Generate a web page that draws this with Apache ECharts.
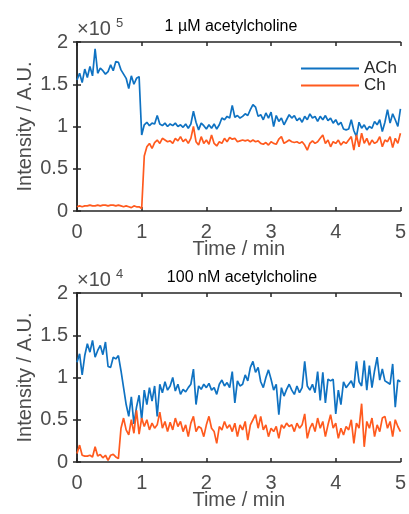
<!DOCTYPE html>
<html>
<head>
<meta charset="utf-8">
<script src="https://cdn.jsdelivr.net/npm/echarts@6/dist/echarts.min.js"></script>
<style>
  html, body { margin: 0; padding: 0; background: #fff; }
  #chart { width: 409px; height: 514px; }
</style>
</head>
<body>
<div id="chart"></div>
<script>
// sampling step (min); each trace runs 0 .. 5 min
const timeStep = 0.04;

// 1 µM acetylcholine, intensity in units of 1e5
const topACh = [
  1.55, 1.63, 1.52, 1.68, 1.58, 1.71, 1.60, 1.92, 1.63, 1.69,
  1.66, 1.62, 1.65, 1.73, 1.66, 1.77, 1.76, 1.67, 1.62, 1.57,
  1.45, 1.60, 1.50, 1.57, 1.59, 0.90, 1.02, 1.05, 1.01, 1.04,
  1.03, 1.13, 1.03, 1.01, 1.04, 1.00, 1.03, 1.01, 1.04, 1.00,
  1.02, 0.99, 1.03, 0.98, 1.03, 1.18, 1.05, 0.96, 1.04, 1.01,
  0.97, 1.02, 0.98, 1.03, 0.97, 1.02, 1.10, 1.08, 1.12, 1.10,
  1.25, 1.11, 1.13, 1.10, 1.12, 1.15, 1.13, 1.20, 1.26, 1.23,
  1.12, 1.14, 1.08, 1.16, 1.10, 1.17, 1.00, 1.13, 1.06, 1.10,
  1.02, 1.08, 1.14, 1.10, 1.13, 1.07, 1.10, 1.05, 1.12, 1.08,
  1.15, 1.10, 1.12, 1.06, 1.12, 1.08, 1.13, 1.07, 1.10, 1.04,
  1.08, 1.02, 1.05, 0.97, 0.96, 0.97, 1.08, 0.95, 0.88, 1.05,
  0.98, 1.02, 0.96, 1.00, 0.98, 1.06, 1.02, 1.08, 0.94, 1.05,
  1.20, 1.04, 1.15, 1.08, 1.00, 1.21
];
const topCh = [
  0.05, 0.06, 0.05, 0.06, 0.06, 0.07, 0.06, 0.06, 0.07, 0.06,
  0.07, 0.07, 0.06, 0.07, 0.07, 0.06, 0.07, 0.06, 0.05, 0.06,
  0.05, 0.04, 0.06, 0.05, 0.05, 0.03, 0.65, 0.76, 0.80, 0.74,
  0.81, 0.84, 0.80, 0.86, 0.84, 0.82, 0.83, 0.80, 0.86, 0.83,
  0.88, 0.82, 0.85, 0.80, 0.86, 1.00, 0.82, 0.78, 0.88, 0.80,
  0.84, 0.79, 0.90, 0.80, 0.77, 0.82, 0.80, 0.86, 0.82, 0.87,
  0.85, 0.86, 0.82, 0.83, 0.84, 0.83, 0.84, 0.82, 0.84, 0.82,
  0.83, 0.80, 0.79, 0.81, 0.78, 0.82, 0.80, 0.79, 0.85, 0.88,
  0.80, 0.82, 0.84, 0.82, 0.81, 0.82, 0.80, 0.82, 0.78, 0.72,
  0.80, 0.83, 0.80, 0.82, 0.86, 0.90, 0.80, 0.84, 0.76, 0.82,
  0.80, 0.84, 0.78, 0.82, 0.80, 0.84, 0.88, 0.72, 0.90, 0.76,
  0.92, 0.80, 0.86, 0.78, 0.84, 0.80, 0.82, 0.88, 0.76, 0.84,
  0.82, 0.88, 0.75, 0.86, 0.80, 0.92
];

// 100 nM acetylcholine, intensity in units of 1e4
const bottomACh = [
  1.18, 1.28, 1.03, 1.26, 1.40, 1.30, 1.44, 1.24, 1.32, 1.38,
  1.27, 1.42, 1.13, 1.12, 1.24, 1.22, 1.26, 1.08, 0.88, 0.68,
  0.54, 0.77, 0.45, 0.65, 0.79, 0.50, 0.85, 0.68, 0.88, 0.72,
  0.90, 0.54, 0.92, 0.82, 0.95, 0.85, 0.90, 1.00, 0.84, 0.92,
  0.80, 0.86, 0.83, 0.88, 0.92, 1.10, 0.68, 0.90, 0.86, 0.92,
  0.88, 0.93, 0.85, 0.88, 0.80, 0.92, 0.97, 0.90, 0.94, 0.88,
  1.07, 0.70, 0.96, 0.90, 0.92, 1.03, 0.96, 1.12, 1.19, 1.06,
  1.12, 0.95, 0.88, 1.00, 1.09, 0.98, 0.85, 0.92, 0.56, 0.88,
  0.78, 0.86, 0.92, 0.85, 0.80, 0.90, 0.82, 0.88, 1.19, 0.90,
  0.85, 0.92, 0.82, 1.07, 0.73, 1.06, 0.70, 0.98, 0.96, 0.98,
  0.57, 0.85, 0.68, 0.95, 0.88, 0.92, 0.96, 0.88, 1.19, 0.95,
  0.90, 1.20, 0.85, 1.14, 0.88, 1.08, 1.24, 0.97, 1.10, 0.96,
  0.94, 0.92, 1.16, 0.65, 0.97, 0.95
];
const bottomCh = [
  0.10, 0.20, 0.08, 0.07, 0.07, 0.08, 0.06, 0.18, 0.07, 0.09,
  0.05, 0.08, 0.02, 0.08, 0.09, 0.06, 0.04, 0.40, 0.52, 0.38,
  0.32, 0.50, 0.34, 0.61, 0.33, 0.52, 0.42, 0.50, 0.38, 0.46,
  0.40, 0.44, 0.59, 0.40, 0.48, 0.36, 0.47, 0.38, 0.52, 0.42,
  0.48, 0.36, 0.44, 0.30, 0.46, 0.54, 0.36, 0.42, 0.40, 0.30,
  0.44, 0.54, 0.40, 0.36, 0.22, 0.42, 0.38, 0.48, 0.40, 0.44,
  0.36, 0.46, 0.30, 0.44, 0.38, 0.48, 0.26, 0.44, 0.50, 0.56,
  0.40, 0.54, 0.38, 0.44, 0.30, 0.40, 0.36, 0.42, 0.28, 0.44,
  0.40, 0.46, 0.42, 0.44, 0.36, 0.46, 0.40, 0.44, 0.57, 0.28,
  0.40, 0.46, 0.36, 0.52, 0.40, 0.48, 0.30, 0.44, 0.56, 0.40,
  0.46, 0.28, 0.40, 0.32, 0.42, 0.38, 0.50, 0.22, 0.46, 0.40,
  0.69, 0.18, 0.48, 0.40, 0.52, 0.30, 0.44, 0.36, 0.52, 0.54,
  0.40, 0.48, 0.30, 0.50, 0.42, 0.36
];

const yTicks = [0, 0.5, 1, 1.5, 2];
const titles = ['1 µM acetylcholine', '100 nM acetylcholine'];
const exponents = ['5', '4'];

const blue = '#0f72c2';
const orange = '#ff5a1e';
const axisColor = '#262626';
const labelColor = '#4d4d4d';
const font = 'Liberation Sans, Arial, sans-serif';

// pair every value with its sample time
const toPoints = (vals) => vals.map((v, i) => [+(i * timeStep).toFixed(2), v]);

const chart = echarts.init(document.getElementById('chart'));

const grids = [
  { left: 77, right: 6, top: 42, height: 169 },
  { left: 77, right: 6, top: 293, height: 169 }
];
const titleCenters = [[231, 19], [242, 270]];

const xAxes = [];
const yAxes = [];
grids.forEach((g, k) => {
  const base = {
    gridIndex: k, type: 'value', min: 0, max: 5, interval: 1,
    axisLine: { show: true, onZero: false, lineStyle: { color: axisColor, width: 1.5 } },
    axisTick: { show: true, inside: true, length: 4, lineStyle: { color: axisColor, width: 1.5 } },
    splitLine: { show: false }
  };
  xAxes.push(Object.assign({}, base, {
    position: 'bottom',
    name: 'Time / min', nameLocation: 'middle', nameGap: 28, nameMoveOverlap: false,
    nameTextStyle: { color: labelColor, fontSize: 20, fontFamily: font },
    axisLabel: { color: labelColor, fontSize: 20, fontFamily: font, margin: 11 }
  }));
  xAxes.push(Object.assign({}, base, { position: 'top', axisLabel: { show: false } }));

  const ybase = {
    gridIndex: k, type: 'value', min: 0, max: 2, interval: 0.5,
    axisLine: { show: true, lineStyle: { color: axisColor, width: 1.5 } },
    axisTick: { show: true, inside: true, length: 4, lineStyle: { color: axisColor, width: 1.5 } },
    splitLine: { show: false }
  };
  yAxes.push(Object.assign({}, ybase, {
    position: 'left',
    name: 'Intensity / A.U.', nameLocation: 'middle', nameGap: 42, nameMoveOverlap: false,
    nameTextStyle: { color: labelColor, fontSize: 20, fontFamily: font },
    axisLabel: { color: labelColor, fontSize: 20, fontFamily: font, margin: 9,
      formatter: (v) => (yTicks.includes(v) ? String(v) : '') }
  }));
  yAxes.push(Object.assign({}, ybase, { position: 'right', axisLabel: { show: false } }));
});

const lineSeries = (name, data, color, k) => ({
  name, type: 'line', data: toPoints(data),
  xAxisIndex: k * 2, yAxisIndex: k * 2,
  showSymbol: false, symbol: 'none', animation: false,
  lineStyle: { color, width: 1.7 }, itemStyle: { color }
});

// "×10^n" multiplier above each y axis
const graphics = [];
grids.forEach((g, k) => {
  graphics.push({
    type: 'text', left: 77, top: g.top - 23,
    style: { text: '×10', fill: labelColor, font: '20px ' + font }
  });
  graphics.push({
    type: 'text', left: 116, top: g.top - 25,
    style: { text: exponents[k], fill: labelColor, font: '13px ' + font }
  });
});

chart.setOption({
  animation: false,
  title: titles.map((t, k) => ({
    text: t, left: titleCenters[k][0], top: titleCenters[k][1], textAlign: 'center', padding: 0,
    textStyle: { color: '#000', fontSize: 16, fontWeight: 'normal', fontFamily: font }
  })),
  legend: {
    data: ['ACh', 'Ch'], orient: 'vertical', left: 301, top: 60,
    itemWidth: 58, itemHeight: 2, itemGap: 0, icon: 'rect', padding: 0,
    textStyle: { color: axisColor, fontSize: 17, lineHeight: 16, fontFamily: font }
  },
  grid: grids,
  xAxis: xAxes,
  yAxis: yAxes,
  series: [
    lineSeries('ACh', topACh, blue, 0),
    lineSeries('Ch', topCh, orange, 0),
    lineSeries('ACh2', bottomACh, blue, 1),
    lineSeries('Ch2', bottomCh, orange, 1)
  ],
  graphic: graphics
});
</script>
</body>
</html>
